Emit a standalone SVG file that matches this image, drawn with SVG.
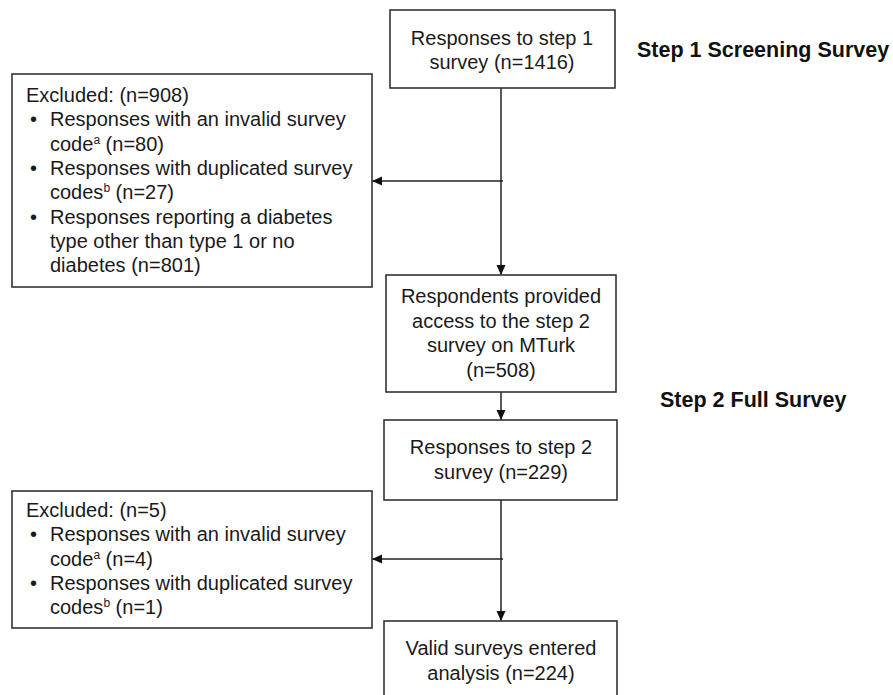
<svg xmlns="http://www.w3.org/2000/svg" width="893" height="695" viewBox="0 0 893 695">
<defs>
<marker id="ah" markerUnits="userSpaceOnUse" markerWidth="10" markerHeight="10" viewBox="0 0 10 10" refX="10" refY="5" orient="auto">
<path d="M0,0.5 L10,5 L0,9.5 Z" fill="#111"/>
</marker>
<style>
.box{fill:#fff;stroke:#333;stroke-width:1.6}
.t{font-family:"Liberation Sans",Arial,sans-serif;font-size:20px;fill:#1a1a1a}
.c{text-anchor:middle}
.lbl{font-family:"Liberation Sans",Arial,sans-serif;font-size:21.5px;font-weight:bold;fill:#111}
.ln{fill:none;stroke:#222;stroke-width:1.5}
.sup{font-size:12px}
</style>
</defs>
<rect width="893" height="695" fill="#fff"/>
<g id="connectors">
<line class="ln" x1="501" y1="88" x2="501" y2="275" marker-end="url(#ah)"/>
<line class="ln" x1="503" y1="181" x2="372" y2="181" marker-end="url(#ah)"/>
<line class="ln" x1="501" y1="392" x2="501" y2="420" marker-end="url(#ah)"/>
<line class="ln" x1="501" y1="500" x2="501" y2="621" marker-end="url(#ah)"/>
<line class="ln" x1="503" y1="559" x2="372" y2="559" marker-end="url(#ah)"/>
</g>
<g id="step1">
<rect class="box" x="390" y="10" width="225" height="78"/>
<text class="t c" x="502" y="45">Responses to step 1</text>
<text class="t c" x="502" y="69">survey (n=1416)</text>
</g>
<g id="label1"><text class="lbl" x="637" y="57">Step 1 Screening Survey</text></g>
<g id="excluded1">
<rect class="box" x="12" y="74" width="360" height="213"/>
<text class="t" x="26" y="102">Excluded: (n=908)</text>
<text class="t" x="30" y="126.3">•</text>
<text class="t" x="50" y="126.3">Responses with an invalid survey</text>
<text class="t" x="50" y="150.6">code<tspan class="sup" dy="-7">a</tspan><tspan dy="7"> (n=80)</tspan></text>
<text class="t" x="30" y="174.9">•</text>
<text class="t" x="50" y="174.9">Responses with duplicated survey</text>
<text class="t" x="50" y="199.2">codes<tspan class="sup" dy="-7">b</tspan><tspan dy="7"> (n=27)</tspan></text>
<text class="t" x="30" y="223.5">•</text>
<text class="t" x="50" y="223.5">Responses reporting a diabetes</text>
<text class="t" x="50" y="247.8">type other than type 1 or no</text>
<text class="t" x="50" y="272.1">diabetes (n=801)</text>
</g>
<g id="access">
<rect class="box" x="386" y="275" width="230" height="117"/>
<text class="t c" x="501" y="303">Respondents provided</text>
<text class="t c" x="501" y="327.5">access to the step 2</text>
<text class="t c" x="501" y="352">survey on MTurk</text>
<text class="t c" x="501" y="376.5">(n=508)</text>
</g>
<g id="label2"><text class="lbl" x="660" y="407">Step 2 Full Survey</text></g>
<g id="step2">
<rect class="box" x="384" y="420" width="233" height="80"/>
<text class="t c" x="501" y="454">Responses to step 2</text>
<text class="t c" x="501" y="478.5">survey (n=229)</text>
</g>
<g id="excluded2">
<rect class="box" x="12" y="491" width="360" height="137"/>
<text class="t" x="26" y="517">Excluded: (n=5)</text>
<text class="t" x="30" y="541.3">•</text>
<text class="t" x="50" y="541.3">Responses with an invalid survey</text>
<text class="t" x="50" y="565.6">code<tspan class="sup" dy="-7">a</tspan><tspan dy="7"> (n=4)</tspan></text>
<text class="t" x="30" y="589.9">•</text>
<text class="t" x="50" y="589.9">Responses with duplicated survey</text>
<text class="t" x="50" y="614.2">codes<tspan class="sup" dy="-7">b</tspan><tspan dy="7"> (n=1)</tspan></text>
</g>
<g id="valid">
<rect class="box" x="384" y="621" width="233" height="90"/>
<text class="t c" x="501" y="655">Valid surveys entered</text>
<text class="t c" x="501" y="679.5">analysis (n=224)</text>
</g>
</svg>
